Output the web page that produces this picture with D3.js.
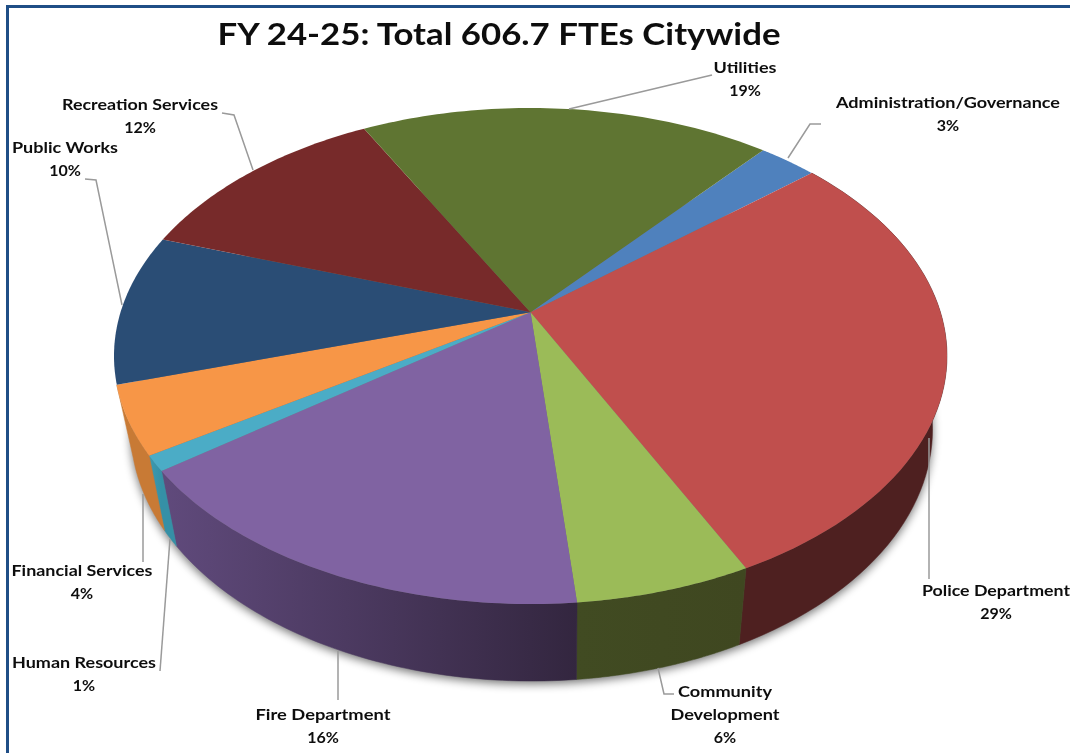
<!DOCTYPE html>
<html><head><meta charset="utf-8">
<script src="https://cdn.jsdelivr.net/npm/d3@7/dist/d3.min.js"></script>
<style>html,body{margin:0;padding:0;background:#fff}svg{display:block}</style>
</head><body><div id="chart"></div>
<script>
const categories = ["Administration/Governance","Police Department","Community Development","Fire Department","Human Resources","Financial Services","Public Works","Recreation Services","Utilities"];
const shares = [2.7,28.85,5.8,16.4,1,4.45,9.8,12.05,18.9];
const topColors = ["#4f81bd","#c0504d","#9bbb59","#8064a2","#4bacc6","#f79646","#2c4d75","#772c2a","#5f7530"];
const wallFrom = [null,"#4e2020","#414b22","#604a7c","#3c9ab0","#c87a35",null,null,null];
const wallTo   = [null,"#4e2020","#3f4720","#33263f","#3590a6","#c87a35",null,null,null];
const labelLines = [["Administration/Governance","3%"],["Police Department","29%"],["Community","Development","6%"],["Fire Department","16%"],["Human Resources","1%"],["Financial Services","4%"],["Public Works","10%"],["Recreation Services","12%"],["Utilities","19%"]];
const labelX = [948,996,725,323,84,82,65,140,745];
const labelY = [103,591,692,715,663,571,148,105,68];
const labelW = [[224],[148],[94,109],[135],[144],[141],[106],[156],[63]];
const leaders = [
 [[788,158],[810,124],[821,124]],
 [[929,438],[929,579]],
 [[658,668],[664,694],[674,694]],
 [[338,651],[338,700]],
 [[170,539],[160,671]],
 [[143,494],[143,562]],
 [[85,179],[96,180],[122,305]],
 [[222,113],[234,115],[253,170]],
 [[569,109],[712,75]]
];
const titleText = "FY 24-25: Total 606.7 FTEs Citywide";

const W=1070,H=753;
const svg=d3.select("#chart").append("svg").attr("width",W).attr("height",H);
const defs=svg.append("defs");
const soft=defs.append("filter").attr("id","soft").attr("x","-5%").attr("y","-5%").attr("width","110%").attr("height","110%");
soft.append("feGaussianBlur").attr("stdDeviation",0.6);
const shad=defs.append("filter").attr("id","shad").attr("x","-10%").attr("y","-10%").attr("width","120%").attr("height","120%");
shad.append("feGaussianBlur").attr("stdDeviation",5);

const xS=d3.scaleLinear().domain([-1,1]).range([114,947]);
const yS=d3.scaleLinear().domain([-1,1]).range([108,604]);
const apexOffset=0.089;
const startDeg=40.1;
function project(t){
  const zx=Math.sin(t), zy=-Math.cos(t);
  const a=-apexOffset;
  const nr=zx, ni=zy+a, dr=1+a*zy, di=-a*zx, d=dr*dr+di*di;
  return [(nr*dr+ni*di)/d,(ni*dr-nr*di)/d];
}
const toTop=p=>[xS(p[0]),yS(p[1])];
const apexN=2*(-apexOffset)/(1+apexOffset*apexOffset);
const apex=[xS(0),yS(apexN)];
const toBottom=p=>[560+0.9626*(p[0]-560), p[1]+75+0.015*(p[1]-469)];

const pie=d3.pie().sort(null).value(d=>d).startAngle(startDeg*Math.PI/180).endAngle(startDeg*Math.PI/180+2*Math.PI);
const arcs=pie(shares);
const line=d3.line();
const rim=a=>d3.range(0,61).map(i=>toTop(project(a.startAngle+(a.endAngle-a.startAngle)*i/60)));

// soft shadow cast by the lower rim of the pie
const fullRim=d3.range(0,181).map(i=>toBottom(toTop(project(i*2*Math.PI/180))));
svg.append("path").attr("d",line(fullRim)+"Z").attr("transform","translate(0,3)")
  .attr("fill","#000").attr("opacity",0.55).attr("filter","url(#shad)");

// walls (front-facing slices only)
const walls=svg.append("g");
arcs.forEach((a,i)=>{
  if(!wallFrom[i]) return;
  const pts=rim(a);
  const ext=d3.extent(pts,p=>p[0]);
  const g=defs.append("linearGradient").attr("id","w"+i).attr("gradientUnits","userSpaceOnUse")
    .attr("x1",ext[0]).attr("x2",ext[1]).attr("y1",0).attr("y2",0);
  g.append("stop").attr("offset",0).attr("stop-color",wallFrom[i]);
  g.append("stop").attr("offset",1).attr("stop-color",wallTo[i]);
  walls.append("path").attr("d",line(pts.concat(pts.map(toBottom).reverse()))+"Z")
    .attr("fill",`url(#w${i})`).attr("stroke",`url(#w${i})`).attr("stroke-width",0.5);
});
// top face
const tops=svg.append("g").attr("filter","url(#soft)");
arcs.forEach((a,i)=>{
  tops.append("path").attr("d",line([apex].concat(rim(a)))+"Z").attr("fill",topColors[i]);
});

// leaders
svg.append("g").attr("filter","url(#soft)").selectAll("path").data(leaders).join("path")
  .attr("d",d=>line(d)).attr("fill","none").attr("stroke","#9a9a9a").attr("stroke-width",1.5);

// labels
const lab=svg.append("g").attr("filter","url(#soft)").attr("font-family","Lato,sans-serif").attr("fill","#111").attr("font-size",16).attr("font-weight",700);
labelLines.forEach((ls,i)=>{
  ls.forEach((s,j)=>{
    const t=lab.append("text").attr("x",labelX[i]).attr("y",labelY[i]+j*23+5).attr("text-anchor","middle").text(s);
    if(labelW[i][j]) t.attr("textLength",labelW[i][j]).attr("lengthAdjust","spacingAndGlyphs");
  });
});

// title
svg.append("text").attr("x",499).attr("y",45).attr("text-anchor","middle")
  .attr("font-family","Lato,sans-serif").attr("font-size",31).attr("font-weight",700).attr("fill","#111")
  .attr("textLength",563).attr("lengthAdjust","spacingAndGlyphs").attr("filter","url(#soft)").text(titleText);

// frame
const frame=svg.append("g").attr("stroke","#1f4e86").attr("stroke-width",3);
frame.append("line").attr("x1",7.5).attr("x2",7.5).attr("y1",5).attr("y2",H);
frame.append("line").attr("x1",6).attr("x2",W).attr("y1",6.5).attr("y2",6.5);
</script></body></html>
